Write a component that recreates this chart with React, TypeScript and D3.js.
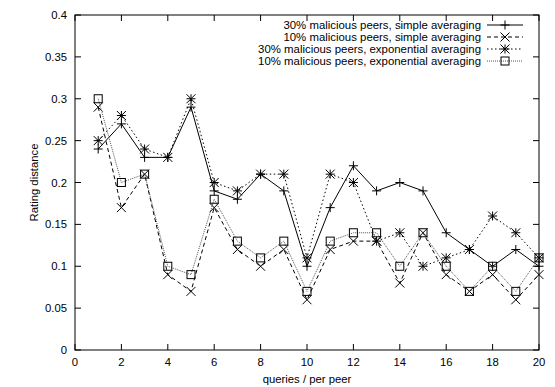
import * as d3 from "d3";

const queries = d3.range(1, 21);

const simple30 = [0.24, 0.27, 0.23, 0.23, 0.29, 0.19, 0.18, 0.21, 0.19, 0.10, 0.17, 0.22, 0.19, 0.20, 0.19, 0.14, 0.12, 0.10, 0.12, 0.10];
const simple10 = [0.29, 0.17, 0.21, 0.09, 0.07, 0.17, 0.12, 0.10, 0.12, 0.06, 0.12, 0.13, 0.13, 0.08, 0.14, 0.09, 0.07, 0.09, 0.06, 0.09];
const expo30 = [0.25, 0.28, 0.24, 0.23, 0.30, 0.20, 0.19, 0.21, 0.21, 0.11, 0.21, 0.20, 0.13, 0.14, 0.10, 0.11, 0.12, 0.16, 0.14, 0.11];
const expo10 = [0.30, 0.20, 0.21, 0.10, 0.09, 0.18, 0.13, 0.11, 0.13, 0.07, 0.13, 0.14, 0.14, 0.10, 0.14, 0.10, 0.07, 0.10, 0.07, 0.11];

const xTicks = d3.range(0, 21, 2);
const yTicks = d3.range(0, 0.401, 0.05);

const series = [
  { label: "30% malicious peers, simple averaging", values: simple30, marker: "plus", dash: "none", color: "#000", width: 1 },
  { label: "10% malicious peers, simple averaging", values: simple10, marker: "cross", dash: "4,3", color: "#000", width: 1 },
  { label: "30% malicious peers, exponential averaging", values: expo30, marker: "star", dash: "1.5,2.5", color: "#000", width: 1 },
  { label: "10% malicious peers, exponential averaging", values: expo10, marker: "box", dash: "1,1", color: "#555", width: 1 },
];

const font = "'Liberation Sans', Arial, sans-serif";

function Marker({ kind, x, y }: { kind: string; x: number; y: number }) {
  const s = 4.5;
  const stroke = "#000";
  if (kind === "plus") {
    return (
      <path d={`M${x - s},${y}H${x + s}M${x},${y - s}V${y + s}`} stroke={stroke} strokeWidth={1} fill="none" />
    );
  }
  if (kind === "cross") {
    return (
      <path d={`M${x - s},${y - s}L${x + s},${y + s}M${x - s},${y + s}L${x + s},${y - s}`} stroke={stroke} strokeWidth={1} fill="none" />
    );
  }
  if (kind === "star") {
    return (
      <path
        d={`M${x - s},${y}H${x + s}M${x},${y - s}V${y + s}M${x - s},${y - s}L${x + s},${y + s}M${x - s},${y + s}L${x + s},${y - s}`}
        stroke={stroke}
        strokeWidth={1}
        fill="none"
      />
    );
  }
  return <rect x={x - s + 0.5} y={y - s + 0.5} width={2 * s - 1} height={2 * s - 1} stroke={stroke} strokeWidth={1} fill="none" />;
}

export default function App() {
  const width = 555;
  const height = 387;
  const left = 75;
  const right = 539;
  const top = 15;
  const bottom = 350;

  const x = d3.scaleLinear().domain([0, 20]).range([left, right]);
  const y = d3.scaleLinear().domain([0, 0.4]).range([bottom, top]);

  const line = d3
    .line<number>()
    .x((_, i) => x(queries[i]))
    .y((d) => y(d));

  const tick = 6;

  return (
    <svg width={width} height={height} style={{ position: "absolute", left: 0, top: 0, background: "#fff" }} fontFamily={font}>
      {yTicks.map((t) => (
        <g key={`y-${t}`}>
          <line x1={left} x2={left + tick} y1={y(t)} y2={y(t)} stroke="#000" />
          <line x1={right - tick} x2={right} y1={y(t)} y2={y(t)} stroke="#000" />
          <text x={left - 8} y={y(t) + 4} textAnchor="end" fontSize={11.3}>
            {d3.format("")(+t.toFixed(2))}
          </text>
        </g>
      ))}
      {xTicks.map((t) => (
        <g key={`x-${t}`}>
          <line x1={x(t)} x2={x(t)} y1={bottom} y2={bottom - tick} stroke="#000" />
          <line x1={x(t)} x2={x(t)} y1={top} y2={top + tick} stroke="#000" />
          <text x={x(t)} y={bottom + 16} textAnchor="middle" fontSize={11.3}>
            {t}
          </text>
        </g>
      ))}

      {series.map((s) => (
        <g key={s.label}>
          <path d={line(s.values) ?? ""} fill="none" stroke={s.color} strokeWidth={s.width} strokeDasharray={s.dash} />
          {s.values.map((v, i) => (
            <Marker key={i} kind={s.marker} x={x(queries[i])} y={y(v)} />
          ))}
        </g>
      ))}

      {series.map((s, i) => {
        const ly = 25 + i * 12;
        return (
          <g key={`leg-${s.label}`}>
            <text x={481} y={ly + 4} textAnchor="end" fontSize={11.4}>
              {s.label}
            </text>
            <line x1={487} x2={523} y1={ly} y2={ly} stroke={s.color} strokeWidth={s.width} strokeDasharray={s.dash} />
            <Marker kind={s.marker} x={505} y={ly} />
          </g>
        );
      })}

      <rect x={left} y={top} width={right - left} height={bottom - top} fill="none" stroke="#000" />

      <text x={(left + right) / 2} y={383} textAnchor="middle" fontSize={11.3}>
        queries / per peer
      </text>
      <text transform={`translate(38,${(top + bottom) / 2}) rotate(-90)`} textAnchor="middle" fontSize={11.3}>
        Rating distance
      </text>
    </svg>
  );
}
